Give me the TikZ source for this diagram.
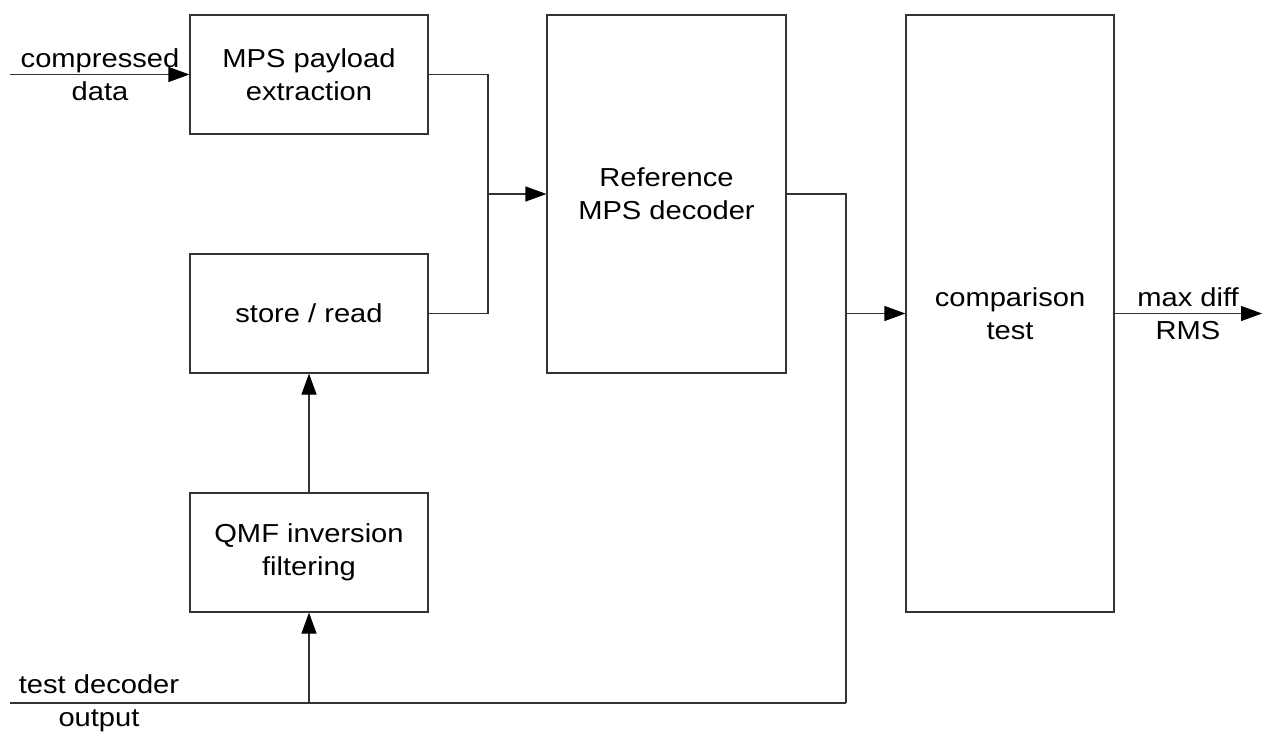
\documentclass[tikz,border=0pt]{standalone}
\usepackage{fontspec}
\setmainfont{Liberation Sans}[FakeStretch=1.12]
\usetikzlibrary{arrows.meta}
\begin{document}
\begin{tikzpicture}[x=1pt,y=-1pt,
 box/.style={draw=black!80, line width=1.2pt, minimum width=238pt, minimum height=119pt, inner sep=0pt, align=center, font=\fontsize{26}{33}\selectfont},
 lbl/.style={inner sep=0pt, align=center, font=\fontsize{26}{33}\selectfont},
 wire/.style={draw=black!80, line width=1.2pt},
 arr/.style={wire, -{Triangle[length=21pt,width=15pt,fill=black,color=black]}}]
\useasboundingbox (0,0) rectangle (1271,734);
\node[box] (mps) at (309,74.5) {MPS payload\\extraction};
\node[box] (store) at (309,313.5) {store / read};
\node[box] (qmf) at (309,552.5) {QMF inversion\\filtering};
\node[box, minimum width=239pt, minimum height=358pt] (ref) at (666.5,194) {Reference\\MPS decoder};
\node[box, minimum width=208pt, minimum height=597pt] (comp) at (1010,313.5) {comparison\\test};
\node[lbl] (cd) at (100,75) {compressed\\data};
\node[lbl] (md) at (1188,313.5) {max diff\\RMS};
\node[lbl] (tdo) at (99,703.5) {test decoder\\output};
\coordinate (in1) at (10,74.5);
\coordinate (j1) at (488,194);
\coordinate (j2) at (846,703);
\coordinate (j3) at (846,313.5);
\coordinate (in2) at (10,703);
\coordinate (j4) at (309,703);
\coordinate (out) at (1262,313.5);
\draw[arr] (in1) -- (mps.west);
\draw[wire] (mps.east) -| (j1);
\draw[wire] (store.east) -| (j1);
\draw[arr] (j1) -- (ref.west);
\draw[wire] (ref.east) -| (j2);
\draw[arr] (j3) -- (comp.west);
\draw[wire] (in2) -- (j2);
\draw[arr] (j4) -- (qmf.south);
\draw[arr] (qmf.north) -- (store.south);
\draw[arr] (comp.east) -- (out);
\end{tikzpicture}
\end{document}
